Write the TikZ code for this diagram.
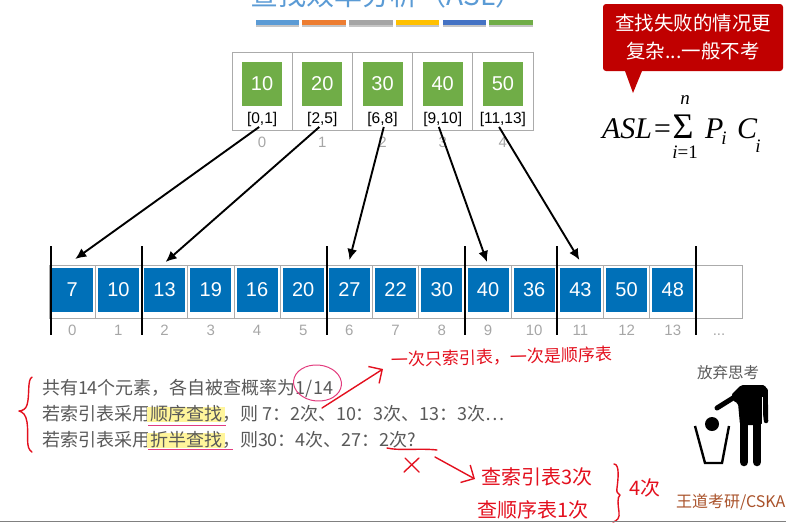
\documentclass[tikz,border=0pt]{standalone}
\usepackage{fontspec}
\setmainfont{Liberation Sans}
\newfontfamily\cjk{Noto Sans CJK SC}
\newfontfamily\mathserif{Liberation Serif}
\usetikzlibrary{arrows.meta,positioning,shapes.geometric,calc,shadows}
\definecolor{titleblue}{HTML}{5B9BD5}
\definecolor{barorange}{HTML}{ED7D31}
\definecolor{bargray}{HTML}{A5A5A5}
\definecolor{baryellow}{HTML}{FFC000}
\definecolor{barblue}{HTML}{4472C4}
\definecolor{keygreen}{HTML}{70AD47}
\definecolor{valblue}{HTML}{0070B8}
\definecolor{bubblered}{HTML}{C00000}
\definecolor{inkred}{HTML}{E3101E}
\definecolor{inkpink}{HTML}{E23C7E}
\definecolor{marker}{HTML}{FFF59B}
\definecolor{bodygray}{HTML}{595959}
\definecolor{numgray}{HTML}{A6A6A6}
\definecolor{cellgray}{HTML}{ABABAB}
\definecolor{brandbrown}{HTML}{A9522A}

\begin{document}
\begin{tikzpicture}[
  x=1pt, y=-1pt,
  node distance=0pt and 0pt,
  every node/.style={inner sep=0pt, outer sep=0pt},
  titlebar/.style={rectangle, minimum width=43.5pt, minimum height=5pt, drop shadow={shadow xshift=0pt, shadow yshift=-1.5pt, opacity=.45}},
  idxcell/.style={rectangle, draw=cellgray, line width=.7pt, minimum width=60.2pt, minimum height=78pt},
  keybox/.style={rectangle, fill=keygreen, text=white, minimum width=40pt, minimum height=44pt, font=\fontsize{20}{24}\selectfont},
  rangelbl/.style={font=\fontsize{15.5}{18}\selectfont, text=black},
  arrcell/.style={rectangle, draw=cellgray, line width=.7pt, minimum width=46.2pt, minimum height=53pt},
  valbox/.style={rectangle, fill=valblue, text=white, minimum width=41pt, minimum height=44pt, font=\fontsize{20}{24}\selectfont},
  numlbl/.style={font=\fontsize{15}{18}\selectfont, text=numgray, text height=11pt, text depth=0pt},
  splitbar/.style={line width=2pt, black},
  ptr/.style={-{Latex[length=11pt,width=10pt]}, line width=1.9pt, black},
  bodyline/.style={font=\cjk\fontsize{18}{22}\selectfont, text=bodygray, text height=14pt, text depth=1pt},
  hl/.style={bodyline, fill=marker, inner xsep=3pt},
  hand/.style={inkred, line width=1.4pt, line cap=round, line join=round},
  handarrow/.style={hand, -{Straight Barb[length=10pt,width=20pt,line width=1.4pt]}},
  handnote/.style={font=\cjk\fontsize{17}{20}\selectfont, text=inkred},
  handbig/.style={font=\cjk\fontsize{20}{24}\selectfont, text=inkred},
  mathbig/.style={font=\mathserif\itshape\fontsize{30}{32}\selectfont, anchor=base west},
  mathsmall/.style={font=\mathserif\itshape\fontsize{19}{22}\selectfont}
]
\useasboundingbox (0,0) rectangle (786,528);
\clip (0,0) rectangle (786,528);

% Heading, cut by the top edge
\node[font=\cjk\fontsize{28}{32}\selectfont, text=titleblue] (heading) at (387,-5) {查找效率分析（ASL）};
\node[titlebar, fill=titleblue] (barA) at (277.5,22.5) {};
\node[titlebar, fill=barorange, right=3.2pt of barA] (barB) {};
\node[titlebar, fill=bargray, right=3.2pt of barB] (barC) {};
\node[titlebar, fill=baryellow, right=3.2pt of barC] (barD) {};
\node[titlebar, fill=barblue, right=3.2pt of barD] (barE) {};
\node[titlebar, fill=keygreen, right=3.2pt of barE] (barF) {};

% Index table
\node[idxcell] (idx0) at (262.1,91) {};
\node[idxcell, right=of idx0] (idx1) {};
\node[idxcell, right=of idx1] (idx2) {};
\node[idxcell, right=of idx2] (idx3) {};
\node[idxcell, right=of idx3] (idx4) {};

\node[keybox, below=10pt of idx0.north] (key0) {10};
\node[keybox, below=10pt of idx1.north] (key1) {20};
\node[keybox, below=10pt of idx2.north] (key2) {30};
\node[keybox, below=10pt of idx3.north] (key3) {40};
\node[keybox, below=10pt of idx4.north] (key4) {50};

\node[rangelbl, below=6.5pt of key0] (range0) {[0,1]};
\node[rangelbl, below=6.5pt of key1] (range1) {[2,5]};
\node[rangelbl, below=6.5pt of key2] (range2) {[6,8]};
\node[rangelbl, below=6.5pt of key3] (range3) {[9,10]};
\node[rangelbl, below=6.5pt of key4] (range4) {[11,13]};

\node[numlbl, below=6.5pt of idx0] (idxnum0) {0};
\node[numlbl, below=6.5pt of idx1] (idxnum1) {1};
\node[numlbl, below=6.5pt of idx2] (idxnum2) {2};
\node[numlbl, below=6.5pt of idx3] (idxnum3) {3};
\node[numlbl, below=6.5pt of idx4] (idxnum4) {4};

% Sequence table
\node[arrcell] (cell0) at (72.2,291.5) {};
\node[arrcell, right=of cell0] (cell1) {};
\node[arrcell, right=of cell1] (cell2) {};
\node[arrcell, right=of cell2] (cell3) {};
\node[arrcell, right=of cell3] (cell4) {};
\node[arrcell, right=of cell4] (cell5) {};
\node[arrcell, right=of cell5] (cell6) {};
\node[arrcell, right=of cell6] (cell7) {};
\node[arrcell, right=of cell7] (cell8) {};
\node[arrcell, right=of cell8] (cell9) {};
\node[arrcell, right=of cell9] (cell10) {};
\node[arrcell, right=of cell10] (cell11) {};
\node[arrcell, right=of cell11] (cell12) {};
\node[arrcell, right=of cell12] (cell13) {};
\node[arrcell, right=of cell13] (cell14) {};

\node[valbox, below=3pt of cell0.north] (val0) {7};
\node[valbox, below=3pt of cell1.north] (val1) {10};
\node[valbox, below=3pt of cell2.north] (val2) {13};
\node[valbox, below=3pt of cell3.north] (val3) {19};
\node[valbox, below=3pt of cell4.north] (val4) {16};
\node[valbox, below=3pt of cell5.north] (val5) {20};
\node[valbox, below=3pt of cell6.north] (val6) {27};
\node[valbox, below=3pt of cell7.north] (val7) {22};
\node[valbox, below=3pt of cell8.north] (val8) {30};
\node[valbox, below=3pt of cell9.north] (val9) {40};
\node[valbox, below=3pt of cell10.north] (val10) {36};
\node[valbox, below=3pt of cell11.north] (val11) {43};
\node[valbox, below=3pt of cell12.north] (val12) {50};
\node[valbox, below=3pt of cell13.north] (val13) {48};

\node[numlbl, below=6.5pt of cell0] (num0) {0};
\node[numlbl, below=6.5pt of cell1] (num1) {1};
\node[numlbl, below=6.5pt of cell2] (num2) {2};
\node[numlbl, below=6.5pt of cell3] (num3) {3};
\node[numlbl, below=6.5pt of cell4] (num4) {4};
\node[numlbl, below=6.5pt of cell5] (num5) {5};
\node[numlbl, below=6.5pt of cell6] (num6) {6};
\node[numlbl, below=6.5pt of cell7] (num7) {7};
\node[numlbl, below=6.5pt of cell8] (num8) {8};
\node[numlbl, below=6.5pt of cell9] (num9) {9};
\node[numlbl, below=6.5pt of cell10] (num10) {10};
\node[numlbl, below=6.5pt of cell11] (num11) {11};
\node[numlbl, below=6.5pt of cell12] (num12) {12};
\node[numlbl, below=6.5pt of cell13] (num13) {13};
\node[numlbl, below=6.5pt of cell14] (num14) {...};

% Block borders
\draw[splitbar] ($(cell0.north west)+(1.5,-19)$) -- ($(cell0.south west)+(1.5,17)$);
\draw[splitbar] ($(cell2.north west)+(0.8,-19)$) -- ($(cell2.south west)+(0.8,17)$);
\draw[splitbar] ($(cell6.north west)+(0.5,-19)$) -- ($(cell6.south west)+(0.5,17)$);
\draw[splitbar] ($(cell9.north west)+(0,-19)$) -- ($(cell9.south west)+(0,17)$);
\draw[splitbar] ($(cell11.north west)+(0,-19)$) -- ($(cell11.south west)+(0,17)$);
\draw[splitbar] ($(cell14.north west)+(0,-19)$) -- ($(cell14.south west)+(0,17)$);

% Pointers
\coordinate[above=9pt of val0.north, xshift=3pt] (tip0);
\coordinate[above=6pt of val2.north, xshift=1pt] (tip1);
\coordinate[above=8pt of val6.north] (tip2);
\coordinate[above=6pt of val9.north, xshift=-1pt] (tip3);
\coordinate[above=8pt of val11.north, xshift=-1pt] (tip4);
\draw[ptr] (range0.-112) -- (tip0);
\draw[ptr] (range1.-112) -- (tip1);
\draw[ptr] (range2.-80) -- (tip2);
\draw[ptr] (range3.-118) -- (tip3);
\draw[ptr] (range4.-118) -- (tip4);

% Bubble
\node[rectangle, rounded corners=3pt, fill=bubblered, text=white, align=center, minimum width=180pt, minimum height=67pt, font=\cjk\fontsize{19.5}{28}\selectfont] (bubble) at (693,37.5) {查找失败的情况更\\复杂...一般不考};
\coordinate (bubbleTip) at (633,93);
\fill[bubblered] ($(bubble.south west)+(22,0)$) -- (bubbleTip) -- ($(bubble.south west)+(39,0)$) -- cycle;

% ASL
\node[mathbig] (asl) at (602,138) {ASL=};
\node[font=\mathserif\fontsize{36}{40}\selectfont, anchor=base] (sigma) at (683,138) {Σ};
\node[mathsmall] (sigmaTop) at (685,100) {n};
\node[mathsmall] (sigmaBot) at (685,152) {i{\upshape =1}};
\node[mathbig] (termP) at (705,138) {P};
\node[mathsmall] (termPi) at (724,138) {i};
\node[mathbig] (termC) at (737,138) {C};
\node[mathsmall] (termCi) at (758,146) {i};

% Text lines
\node[bodyline, anchor=west] (lineA) at (42,388) {共有14个元素，各自被查概率为};
\node[bodyline, right=of lineA] (rate) {1/14};
\node[bodyline, anchor=west] (lineB) at (42,414) {若索引表采用};
\node[hl, right=-3pt of lineB] (seqWord) {顺序查找};
\node[bodyline, right=-3pt of seqWord] (lineBrest) {，则 7：2次、10：3次、13：3次…};
\node[bodyline, anchor=west] (lineC) at (42,440) {若索引表采用};
\node[hl, right=-3pt of lineC] (halfWord) {折半查找};
\node[bodyline, right=-3pt of halfWord] (lineCrest) {，则30：4次、27：2次?};

\draw[inkpink, line width=1pt] ($(seqWord.south west)+(1,4)$) -- ($(seqWord.south east)+(1,4)$);
\draw[inkpink, line width=1pt] ($(halfWord.south west)+(1,2)$) -- ($(halfWord.south east)+(8,2)$);
\node[ellipse, draw=inkpink, line width=1pt, minimum width=48pt, minimum height=36pt, rotate=-5] (ring) at ($(rate)+(3,-5)$) {};

% Handwriting
\draw[hand] (32,377) .. controls (27,380) and (30,395) .. (27,405) .. controls (26,409) and (22,411) .. (19,411) .. controls (23,412) and (26,415) .. (27,422) .. controls (29,435) and (25,448) .. (32,452);
\coordinate (noteStart) at (322,408);
\coordinate (noteEnd) at (383,369);
\draw[handarrow] (noteStart) -- (noteEnd);
\node[handnote, rotate=1.5] (noteA) at (502,357) {一次只索引表，一次是顺序表};
\draw[hand] (387,448) .. controls (400,451) and (420,448) .. (437,450);
\draw[hand] (405,458) -- (419,472);
\draw[hand] (419,458) -- (404,472);
\coordinate (fixStart) at (435,457);
\coordinate (fixEnd) at (475,479);
\draw[handarrow] (fixStart) -- (fixEnd);
\node[handbig] (noteB) at (537,477) {查索引表3次};
\node[handbig] (noteC) at (533,510) {查顺序表1次};
\draw[hand] (614,464) .. controls (620,464) and (618,480) .. (617,488) .. controls (616,492) and (618,494) .. (620,495) .. controls (617,497) and (618,505) .. (619,512) .. controls (620,518) and (617,521) .. (613,522);
\node[handbig] (noteSum) at (645,488) {4次};

% Give-up icon
\node[font=\cjk\fontsize{15.5}{18}\selectfont, text=bodygray] (giveUp) at (728,373) {放弃思考};
\fill[black, rounded corners=2pt] (741,385) -- (765,385) -- (768,392) -- (762,425) -- (740,425) -- (738,403) -- (733,401) -- (731,395) -- cycle;
\draw[black, line width=5pt, line cap=round] (733,398) -- (717,408);
\draw[black, line width=4.5pt, line cap=round] (765.5,390) -- (766,421);
\draw[white, line width=.8pt] (762.7,397) -- (762.7,425);
\draw[black, line width=8.5pt, line cap=round] (744,420) -- (744,462);
\draw[black, line width=8.5pt, line cap=round] (757,420) -- (757,462);
\fill[black] (712,424) circle (7);
\draw[black, line width=2.4pt, line join=miter] (695,426) -- (705,463) -- (722,463) -- (729,426);

\node[font=\cjk\fontsize{16}{18}\selectfont, text=brandbrown, anchor=west] (brand) at (676,502) {王道考研/CSKA};
\draw[gray, line width=.8pt] (0,521.7) -- (786,521.7);
\end{tikzpicture}
\end{document}
